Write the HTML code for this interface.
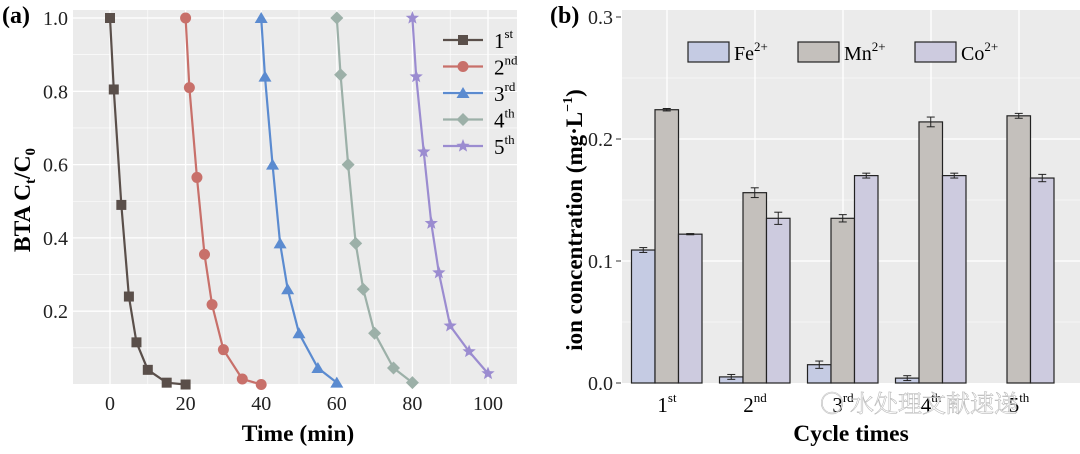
<!DOCTYPE html>
<html><head><meta charset="utf-8"><style>
body{margin:0;background:#fff;width:1080px;height:449px;overflow:hidden}
svg{font-family:"Liberation Serif","Noto Serif CJK SC",serif}
</style></head><body>
<svg id="c" width="1080" height="449"></svg>
<script>
const times1=[0,1,3,5,7,10,15,20];
const offs=[0,20,40,60,80];
const s1=[1,0.805,0.49,0.24,0.115,0.04,0.005,0];
const s2=[1,0.81,0.565,0.355,0.218,0.095,0.015,0];
const s3=[1,0.84,0.6,0.385,0.26,0.14,0.045,0.005];
const s4=[1,0.845,0.6,0.385,0.26,0.14,0.045,0.005];
const s5=[1,0.84,0.635,0.44,0.305,0.16,0.09,0.03];
const xTicksA=[0,20,40,60,80,100];
const yTicksA=[0.2,0.4,0.6,0.8,1.0];
const cycles=["st","nd","rd","th","th"];
const fe=[0.109,0.005,0.015,0.004,0];
const mn=[0.224,0.156,0.135,0.214,0.219];
const co=[0.122,0.135,0.170,0.170,0.168];
const feErr=[0.002,0.002,0.003,0.002,0];
const mnErr=[0.001,0.004,0.003,0.004,0.002];
const coErr=[0.0005,0.005,0.002,0.002,0.003];
const yTicksB=[0,0.1,0.2,0.3];

const svg=document.getElementById('c');const NS='http://www.w3.org/2000/svg';
function el(t,a,p){const e=document.createElementNS(NS,t);for(const k in a)e.setAttribute(k,a[k]);(p||svg).appendChild(e);return e;}
// panel A
const ax=t=>110+t*3.78, ay=v=>384.5-v*366.5;
let r=el('rect',{x:73,y:10,width:444,height:374,fill:'#ebebeb'});

for(let t=-10;t<=110;t+=10){if(ax(t)<73||ax(t)>517)continue;el('line',{x1:ax(t),x2:ax(t),y1:10,y2:384,stroke:'#fff','stroke-width':t%20==0?1.3:0.6});}
for(let v=0.1;v<=1.05;v+=0.1){el('line',{x1:73,x2:517,y1:ay(v),y2:ay(v),stroke:'#fff','stroke-width':Math.round(v*10)%2==0?1.3:0.6});}
xTicksA.forEach(t=>{let e=el('text',{x:ax(t),y:410,'text-anchor':'middle','font-size':20,fill:'#222'});e.textContent=t;
});
yTicksA.forEach(v=>{let e=el('text',{x:68,y:ay(v)+7,'text-anchor':'end','font-size':20,fill:'#222'});e.textContent=v.toFixed(1);
});
let xt=el('text',{x:298,y:441,'text-anchor':'middle','font-size':23.5,'font-weight':'bold'});xt.textContent='Time (min)';

let yt=el('text',{transform:'translate(30,200) rotate(-90)','text-anchor':'middle','font-size':23.5,'font-weight':'bold'});
yt.innerHTML='BTA C<tspan font-size="15" dy="5">t</tspan><tspan dy="-5">/C</tspan><tspan font-size="15" dy="5">0</tspan>';

let la=el('text',{x:2,y:23,'font-size':24,'font-weight':'bold'});la.textContent='(a)';

const series=[s1,s2,s3,s4,s5];const cols=['#5a4f4a','#c8706a','#5b8bd0','#9cb0a8','#9b8cd0'];
function marker(k,x,y,c,g){
 if(k==0)return el('rect',{x:x-5,y:y-5,width:10,height:10,fill:c},g);
 if(k==1)return el('circle',{cx:x,cy:y,r:5.5,fill:c},g);
 if(k==2)return el('polygon',{points:`${x},${y-6} ${x+6.5},${y+5} ${x-6.5},${y+5}`,fill:c},g);
 if(k==3)return el('polygon',{points:`${x},${y-6.5} ${x+6.5},${y} ${x},${y+6.5} ${x-6.5},${y}`,fill:c},g);
 let p=[];for(let i=0;i<10;i++){const rr=i%2?3:7,a=-Math.PI/2+i*Math.PI/5;p.push((x+rr*Math.cos(a))+','+(y+rr*Math.sin(a)));}
 return el('polygon',{points:p.join(' '),fill:c},g);
}
series.forEach((s,k)=>{
 const g=el('g',{});
 const pts=s.map((v,i)=>ax(times1[i]+offs[k])+','+ay(v));
 el('polyline',{points:pts.join(' '),fill:'none',stroke:cols[k],'stroke-width':2.2},g);
 s.forEach((v,i)=>{const m=marker(k,ax(times1[i]+offs[k]),ay(v),cols[k],g);
 });
});
const lab=['1','2','3','4','5'];
cols.forEach((c,k)=>{const y=40+k*26.5;const g=el('g',{});
 el('line',{x1:443,x2:483,y1:y,y2:y,stroke:c,'stroke-width':2.2},g);marker(k,463,y,c,g);
 const t=el('text',{x:494,y:y+8,'font-size':21},g);t.innerHTML=lab[k]+'<tspan font-size="13" dy="-10">'+cycles[k]+'</tspan>';});
// panel B
const by=v=>383-v*1220;
r=el('rect',{x:622,y:10,width:458,height:373,fill:'#ebebeb'});

for(let v=0.05;v<0.3;v+=0.05){el('line',{x1:622,x2:1080,y1:by(v),y2:by(v),stroke:'#fff','stroke-width':Math.round(v*100)%10==0?1.3:0.6});}
const gx=i=>667+i*88;
for(let i=0;i<5;i++){el('line',{x1:gx(i),x2:gx(i),y1:10,y2:383,stroke:'#fff','stroke-width':1.3});}
yTicksB.forEach(v=>{let e=el('text',{x:613,y:by(v)+7,'text-anchor':'end','font-size':20,fill:'#222'});e.textContent=v.toFixed(1);

el('line',{x1:616,x2:621,y1:by(v),y2:by(v),stroke:'#333'});});
const groups=[[fe,feErr,'#c5cbe3','fe'],[mn,mnErr,'#c4c0bc','mn'],[co,coErr,'#cdcbdf','co']];
groups.forEach(([d,er,c,n],j)=>{d.forEach((v,i)=>{
 const x=gx(i)-35.5+j*23.5;
 if(v>0){const b=el('rect',{x:x,y:by(v),width:23.5,height:by(0)-by(v),fill:c,stroke:'#222','stroke-width':1.2});
 }
 if(er[i]>0){const cx=x+11.75;el('line',{x1:cx,x2:cx,y1:by(v+er[i]),y2:by(v-er[i]),stroke:'#222'});
 el('line',{x1:cx-4,x2:cx+4,y1:by(v+er[i]),y2:by(v+er[i]),stroke:'#222'});el('line',{x1:cx-4,x2:cx+4,y1:by(v-er[i]),y2:by(v-er[i]),stroke:'#222'});}
});});
cycles.forEach((s,i)=>{const t=el('text',{x:gx(i),y:412,'text-anchor':'middle','font-size':21});t.innerHTML=(i+1)+'<tspan font-size="13" dy="-10">'+s+'</tspan>';
});
let xb=el('text',{x:851,y:441,'text-anchor':'middle','font-size':23.5,'font-weight':'bold'});xb.textContent='Cycle times';

let ybt=el('text',{transform:'translate(582,220) rotate(-90)','text-anchor':'middle','font-size':23,'font-weight':'bold'});
ybt.innerHTML='ion concentration (mg·L<tspan font-size="14" dy="-10">−1</tspan><tspan dy="10">)</tspan>';

let lb=el('text',{x:550,y:23,'font-size':24,'font-weight':'bold'});lb.textContent='(b)';

[['Fe',688,'#c5cbe3'],['Mn',798,'#c4c0bc'],['Co',915,'#cdcbdf']].forEach(([n,x,c])=>{const g=el('g',{});
 
 el('rect',{x:x,y:42,width:41,height:20,fill:c,stroke:'#222','stroke-width':1.2},g);
 const t=el('text',{x:x+46,y:60,'font-size':20},g);t.innerHTML=n+'<tspan font-size="13" dy="-9">2+</tspan>';});
let wm=el('text',{x:820,y:412,'font-size':24,fill:'#fff','fill-opacity':0.7,stroke:'#bbb','stroke-width':0.6});wm.textContent='〇 水处理文献速递';

</script>
</body></html>
